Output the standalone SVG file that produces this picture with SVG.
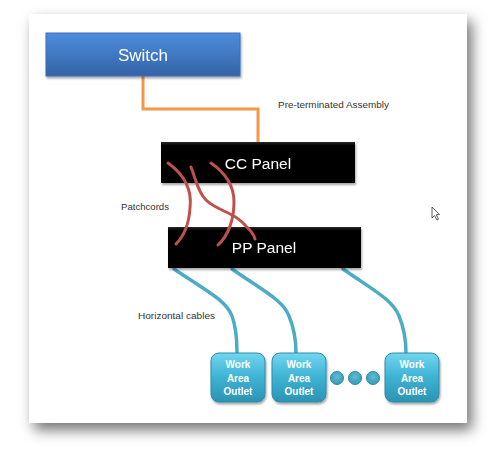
<svg xmlns="http://www.w3.org/2000/svg" width="500" height="458" viewBox="0 0 500 458">
<defs>
<filter id="pageShadow" x="-20%" y="-20%" width="140%" height="140%">
<feDropShadow dx="5" dy="7" stdDeviation="7" flood-color="#000" flood-opacity="0.55"/>
</filter>
<filter id="boxShadow" x="-10%" y="-10%" width="130%" height="140%">
<feDropShadow dx="1" dy="2" stdDeviation="1.2" flood-color="#000" flood-opacity="0.35"/>
</filter>
<linearGradient id="blueGrad" x1="0" y1="0" x2="0" y2="1">
<stop offset="0" stop-color="#4d8ddd"/>
<stop offset="1" stop-color="#3463a6"/>
</linearGradient>
<linearGradient id="blackGrad" x1="0" y1="0" x2="0" y2="1">
<stop offset="0" stop-color="#2a2a2a"/>
<stop offset="0.08" stop-color="#050505"/>
<stop offset="1" stop-color="#000"/>
</linearGradient>
<linearGradient id="outletGrad" x1="0" y1="0" x2="0" y2="1">
<stop offset="0" stop-color="#72d6f0"/>
<stop offset="0.5" stop-color="#3db2d3"/>
<stop offset="1" stop-color="#2c93b2"/>
</linearGradient>
<radialGradient id="dotGrad" cx="0.5" cy="0.4" r="0.6">
<stop offset="0" stop-color="#5cbdd6"/>
<stop offset="1" stop-color="#3a9ab6"/>
</radialGradient>
<style>
.lbl{font-family:"Liberation Sans",Arial,sans-serif;font-size:9px;fill:#333}
.big{font-family:"Liberation Sans",Arial,sans-serif;fill:#fff;text-anchor:middle}
.out{font-family:"Liberation Sans",Arial,sans-serif;font-size:10px;font-weight:bold;fill:#fff;text-anchor:middle}
.orange{fill:none;stroke:#f79646;stroke-width:3}
.red{fill:none;stroke:#c0504d;stroke-width:3;stroke-linecap:round}
.cable{fill:none;stroke:#4bacc6;stroke-width:3.5;stroke-linecap:round}
.outlet{fill:url(#outletGrad);stroke:#2b8ca9;stroke-width:1;filter:url(#boxShadow)}
.dot{fill:url(#dotGrad);stroke:#2c8ba6;stroke-width:1}
</style>
</defs>
<rect x="0" y="0" width="500" height="458" fill="#fff"/>
<rect id="page" x="29" y="14" width="438" height="409" fill="#fff" filter="url(#pageShadow)"/>
<g id="connectors">
<path id="assembly" class="orange" d="M143,76 V109 H258 V143"/>
<path class="cable" d="M174,269 C205,290 226,300 232,316 C236,327 237,340 237,353"/>
<path class="cable" d="M232,269 C262,290 283,300 289,316 C294,328 296,340 296,353"/>
<path class="cable" d="M343,269 C373,290 393,300 399,316 C404,328 406,340 406,353"/>
</g>
<g id="switch" filter="url(#boxShadow)">
<rect x="46" y="33" width="194" height="43" fill="url(#blueGrad)" stroke="#3a6fb5" stroke-width="1"/>
<text class="big" x="143" y="61" font-size="17">Switch</text>
</g>
<g id="cc-panel" filter="url(#boxShadow)">
<rect x="161" y="142" width="194" height="41" fill="url(#blackGrad)"/>
<text class="big" x="258" y="169" font-size="15.5">CC Panel</text>
</g>
<g id="pp-panel" filter="url(#boxShadow)">
<rect x="168" y="227" width="193" height="41" fill="url(#blackGrad)"/>
<text class="big" x="264" y="253" font-size="15.5">PP Panel</text>
</g>
<g id="patchcords">
<path class="red" d="M168,163 C186,176 192,192 190,208 C189,224 184,236 176,244"/>
<path class="red" d="M191,167 C196,180 198,192 206,200 C216,210 232,212 242,222 C250,230 254,234 255,239"/>
<path class="red" d="M211,163 C227,174 234,186 234,202 C234,220 228,236 218,245"/>
</g>
<g id="labels">
<text class="lbl" x="278" y="107.5" textLength="111" lengthAdjust="spacingAndGlyphs">Pre-terminated Assembly</text>
<text class="lbl" x="121" y="210" textLength="48" lengthAdjust="spacingAndGlyphs">Patchcords</text>
<text class="lbl" x="138" y="319" textLength="77" lengthAdjust="spacingAndGlyphs">Horizontal cables</text>
</g>
<g id="outlet1">
<rect class="outlet" x="211" y="353" width="54" height="49" rx="8"/>
<text class="out" x="238" y="368">Work</text>
<text class="out" x="238" y="381.5">Area</text>
<text class="out" x="238" y="395">Outlet</text>
</g>
<g id="outlet2">
<rect class="outlet" x="272" y="353" width="54" height="49" rx="8"/>
<text class="out" x="299" y="368">Work</text>
<text class="out" x="299" y="381.5">Area</text>
<text class="out" x="299" y="395">Outlet</text>
</g>
<g id="ellipsis">
<circle class="dot" cx="337" cy="378" r="6.5"/>
<circle class="dot" cx="355" cy="378" r="6.5"/>
<circle class="dot" cx="373" cy="378" r="6.5"/>
</g>
<g id="outlet3">
<rect class="outlet" x="385" y="353" width="54" height="49" rx="8"/>
<text class="out" x="412" y="368">Work</text>
<text class="out" x="412" y="381.5">Area</text>
<text class="out" x="412" y="395">Outlet</text>
</g>
<g id="cursor">
<path d="M432,207 V218 L434.5,215.5 L437,220 L438.5,219.2 L436.2,214.8 L439.5,214.5 Z" fill="#fff" stroke="#333" stroke-width="0.8" stroke-linejoin="round"/>
</g>
</svg>
